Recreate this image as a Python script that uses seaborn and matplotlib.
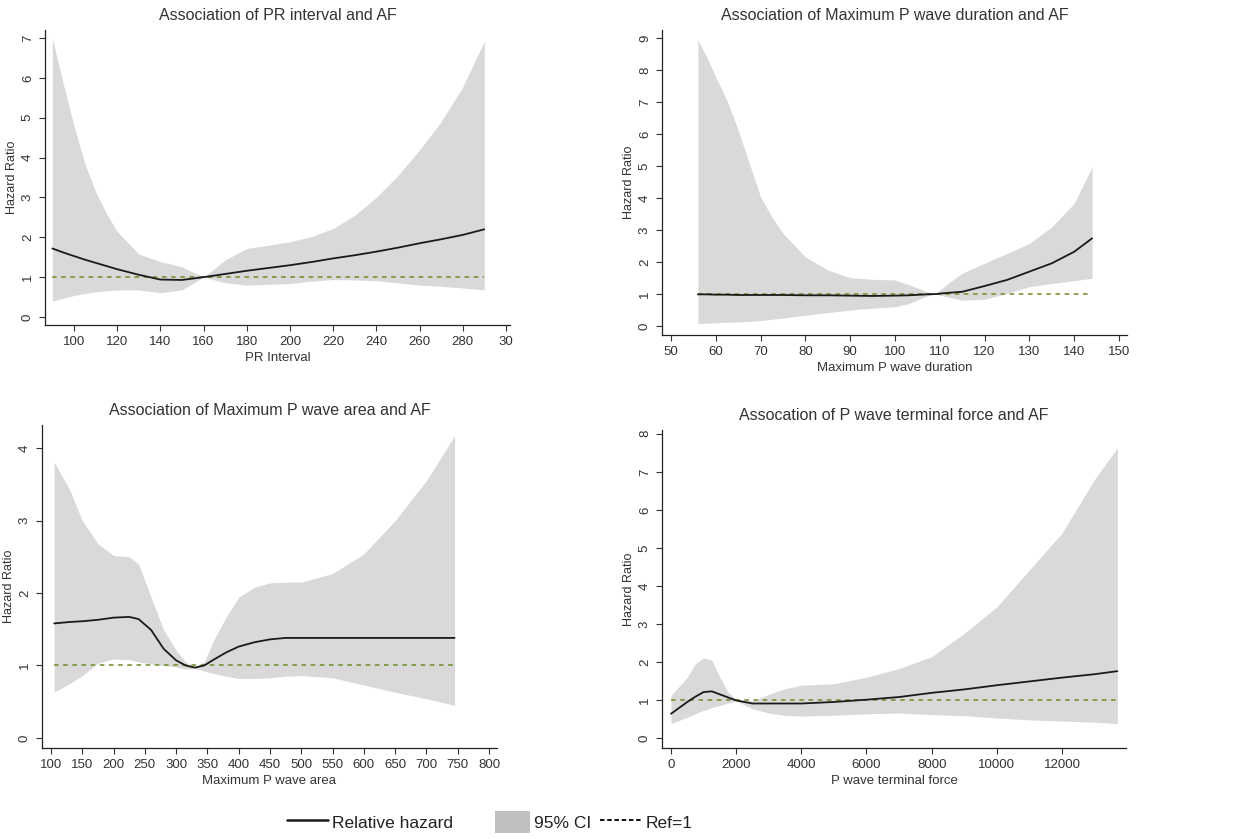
import matplotlib
matplotlib.use("Agg")
import matplotlib.pyplot as plt
import seaborn as sns
from matplotlib.lines import Line2D
from matplotlib.patches import Patch

# panel 1: PR interval
pr_x = [90, 95, 100, 105, 110, 115, 120, 130, 140, 150, 160, 170, 180, 190, 200, 210, 220, 230, 240, 250, 260, 270, 280, 290]
pr_hr = [1.72, 1.62, 1.53, 1.44, 1.36, 1.28, 1.20, 1.06, 0.94, 0.93, 1.00, 1.08, 1.16, 1.23, 1.30, 1.38, 1.47, 1.55, 1.64, 1.74, 1.85, 1.95, 2.06, 2.20]
pr_lo = [0.40, 0.47, 0.54, 0.59, 0.63, 0.66, 0.68, 0.68, 0.61, 0.68, 1.00, 0.86, 0.80, 0.82, 0.84, 0.90, 0.94, 0.93, 0.91, 0.86, 0.80, 0.77, 0.73, 0.68]
pr_hi = [7.00, 5.86, 4.80, 3.85, 3.15, 2.60, 2.15, 1.58, 1.39, 1.26, 1.00, 1.43, 1.72, 1.80, 1.89, 2.02, 2.22, 2.55, 3.00, 3.55, 4.19, 4.90, 5.77, 6.92]

# panel 2: maximum P wave duration
pd_x = [56, 58, 60, 62.5, 65, 67.5, 70, 72.5, 75, 80, 85, 90, 95, 100, 103, 107, 109, 112, 115, 120, 125, 130, 135, 140, 144]
pd_hr = [0.99, 0.99, 0.98, 0.98, 0.97, 0.97, 0.97, 0.97, 0.97, 0.96, 0.96, 0.95, 0.94, 0.95, 0.96, 0.99, 1.00, 1.04, 1.07, 1.25, 1.44, 1.70, 1.96, 2.32, 2.74]
pd_lo = [0.08, 0.09, 0.10, 0.12, 0.13, 0.15, 0.17, 0.21, 0.25, 0.34, 0.42, 0.50, 0.56, 0.60, 0.70, 0.93, 1.00, 0.90, 0.81, 0.83, 1.02, 1.23, 1.33, 1.42, 1.49]
pd_hi = [8.95, 8.40, 7.78, 7.05, 6.12, 5.08, 4.04, 3.41, 2.90, 2.16, 1.75, 1.51, 1.46, 1.44, 1.30, 1.08, 1.00, 1.35, 1.65, 1.96, 2.27, 2.58, 3.10, 3.83, 4.97]

# panel 3: maximum P wave area
pa_x = [105, 130, 150, 175, 200, 225, 240, 260, 280, 300, 315, 330, 345, 360, 380, 400, 425, 450, 475, 500, 550, 600, 650, 700, 745]
pa_hr = [1.58, 1.60, 1.61, 1.63, 1.66, 1.67, 1.64, 1.49, 1.23, 1.07, 1.00, 0.97, 1.00, 1.08, 1.18, 1.26, 1.32, 1.36, 1.38, 1.38, 1.38, 1.38, 1.38, 1.38, 1.38]
pa_lo = [0.63, 0.75, 0.86, 1.03, 1.09, 1.08, 1.05, 1.02, 1.00, 0.98, 0.95, 0.96, 0.92, 0.89, 0.85, 0.82, 0.82, 0.83, 0.85, 0.86, 0.83, 0.73, 0.63, 0.54, 0.45]
pa_hi = [3.81, 3.42, 3.00, 2.68, 2.52, 2.50, 2.40, 1.94, 1.49, 1.21, 1.05, 0.98, 1.05, 1.35, 1.67, 1.94, 2.08, 2.14, 2.15, 2.15, 2.27, 2.54, 3.00, 3.55, 4.17]

# panel 4: P wave terminal force
tf_x = [0, 500, 750, 1000, 1250, 1500, 1750, 2000, 2500, 3000, 3500, 4000, 5000, 6000, 7000, 8000, 9000, 10000, 11000, 12000, 13000, 13700]
tf_hr = [0.64, 0.95, 1.09, 1.21, 1.23, 1.15, 1.07, 0.99, 0.91, 0.91, 0.91, 0.91, 0.95, 1.01, 1.08, 1.19, 1.28, 1.39, 1.49, 1.59, 1.68, 1.76]
tf_lo = [0.38, 0.55, 0.64, 0.73, 0.80, 0.86, 0.92, 0.98, 0.77, 0.66, 0.60, 0.58, 0.60, 0.64, 0.66, 0.62, 0.59, 0.53, 0.48, 0.45, 0.42, 0.38]
tf_hi = [1.12, 1.60, 1.96, 2.11, 2.05, 1.60, 1.21, 1.02, 0.98, 1.15, 1.30, 1.39, 1.43, 1.60, 1.83, 2.14, 2.75, 3.45, 4.42, 5.39, 6.80, 7.63]

sns.set_style("ticks")
plt.rcParams['font.family'] = ['Liberation Sans', 'DejaVu Sans']

CI_COL = '#d9d9d9'
LINE_COL = '#1a1a1a'
REF_COL = '#6b8e23'
TXT = '#333333'

fig = plt.figure(figsize=(12.59, 8.39), dpi=100)
W, H = 1259, 839


def panel(box, x, hr, lo, hi, title, xlabel, xlim, ylim, xticks, yticks, xticklabels=None):
    l, t, r, b = box
    ax = fig.add_axes([l / W, 1 - b / H, (r - l) / W, (b - t) / H])
    ax.fill_between(x, lo, hi, color=CI_COL, linewidth=0)
    sns.lineplot(x=x, y=[1] * len(x), ax=ax, color=REF_COL, linewidth=1.1,
                 linestyle=(0, (3, 3)))
    sns.lineplot(x=x, y=hr, ax=ax, color=LINE_COL, linewidth=1.3)
    ax.set_xlim(*xlim)
    ax.set_ylim(*ylim)
    ax.set_xticks(xticks)
    if xticklabels is not None:
        ax.set_xticklabels(xticklabels)
    ax.set_yticks(yticks)
    ax.set_title(title, fontsize=11.5, color=TXT, pad=7)
    ax.set_xlabel(xlabel, fontsize=9.5, color=TXT, labelpad=3)
    ax.set_ylabel('Hazard Ratio', fontsize=9, color=TXT, labelpad=3)
    ax.tick_params(axis='both', direction='out', length=4, width=0.8,
                   colors=TXT, labelsize=9.5, pad=4)
    ax.tick_params(axis='y', labelrotation=90)
    for lbl in ax.get_yticklabels():
        lbl.set_va('center')
    for s in ['left', 'bottom']:
        ax.spines[s].set_color('#222222')
        ax.spines[s].set_linewidth(0.9)
    sns.despine(ax=ax)
    return ax


panel((45, 30, 510, 325), pr_x, pr_hr, pr_lo, pr_hi,
      'Association of PR interval and AF', 'PR Interval',
      (86.6, 301.9), (-0.2, 7.2), list(range(100, 301, 20)), list(range(0, 8)),
      xticklabels=[str(v) for v in range(100, 300, 20)] + ['30'])

panel((662, 30, 1127, 335), pd_x, pd_hr, pd_lo, pd_hi,
      'Association of Maximum P wave duration and AF', 'Maximum P wave duration',
      (48, 151.8), (-0.28, 9.25), list(range(50, 151, 10)), list(range(0, 10)))

panel((42, 425, 497, 748), pa_x, pa_hr, pa_lo, pa_hi,
      'Association of Maximum P wave area and AF', 'Maximum P wave area',
      (85.6, 812.8), (-0.14, 4.32), list(range(100, 801, 50)), list(range(0, 5)))

panel((662, 430, 1126, 748), tf_x, tf_hr, tf_lo, tf_hi,
      'Assocation of P wave terminal force and AF', 'P wave terminal force',
      (-276, 13965), (-0.26, 8.1), list(range(0, 12001, 2000)), list(range(0, 9)))

# legend row at the bottom, one entry each so the gaps can follow the reference
leg_font = {'size': 12.5}
items = [
    (287, 2.35, Line2D([], [], color=LINE_COL, linewidth=1.8), 'Relative hazard'),
    (495, 2.0, Patch(facecolor='#c0c0c0', edgecolor='none'), '95% CI'),
    (600, 2.35, Line2D([], [], color='black', linewidth=1.3, linestyle=(0, (2.5, 1.5))), 'Ref=1'),
]
for xpos, hl, handle, label in items:
    fig.legend([handle], [label], loc='center left', bbox_to_anchor=(xpos / W, 1 - 822 / H),
               frameon=False, prop=leg_font, handlelength=hl, handleheight=1.5,
               handletextpad=0.25, borderpad=0, borderaxespad=0, labelcolor='#222222')

fig.savefig('out.png', dpi=100)
